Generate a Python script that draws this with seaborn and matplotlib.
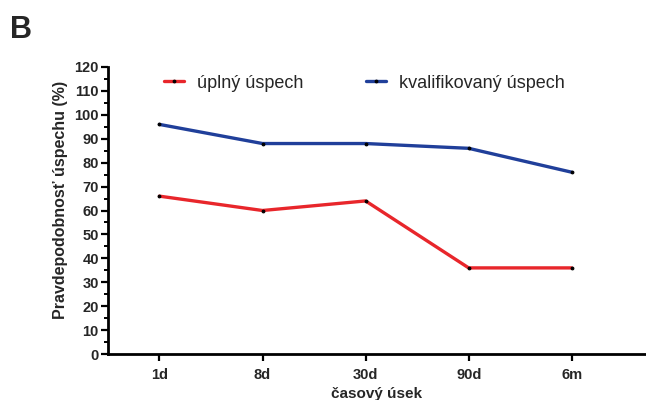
import pandas as pd
import matplotlib.pyplot as plt
from matplotlib.ticker import MultipleLocator
import seaborn as sns

# data
periods = ['1d', '8d', '30d', '90d', '6m']
full_success = [66, 60, 64, 36, 36]
qualified_success = [96, 88, 88, 86, 76]
series_names = ['úplný úspech', 'kvalifikovaný úspech']
series_colors = ['#e8262b', '#203f9a']

df = pd.DataFrame({
    'period': periods * 2,
    'value': full_success + qualified_success,
    'series': [series_names[0]] * len(periods) + [series_names[1]] * len(periods),
})
df['pos'] = list(range(len(periods))) * 2

sns.set_style('ticks')
plt.rcParams['font.family'] = ['Liberation Sans', 'DejaVu Sans']

fig = plt.figure(figsize=(6.46, 4.0), dpi=100)
ax = fig.add_axes([0.167, 0.115, 0.833, 0.7175])

sns.lineplot(data=df, x='pos', y='value', hue='series', palette=series_colors,
             linewidth=2.4, marker='o', markersize=2.0, markerfacecolor='black',
             markeredgecolor='black', ax=ax)

ax.set_xlim(-0.5, 4.72)
ax.set_ylim(0, 120)
ax.set_xticks(range(len(periods)))
ax.set_xticklabels(periods)
ax.yaxis.set_major_locator(MultipleLocator(10))
ax.yaxis.set_minor_locator(MultipleLocator(5))

for lab in ax.get_xticklabels() + ax.get_yticklabels():
    lab.set_fontweight('bold')
    lab.set_fontsize(10.5)

ax.tick_params(axis='both', which='major', length=5, width=1.6, color='black')
ax.tick_params(axis='y', which='major', pad=1.5)
ax.tick_params(axis='y', which='minor', length=3, width=1.4, color='black')
ax.tick_params(axis='x', which='major', pad=5)

sns.despine(ax=ax)
for side in ['left', 'bottom']:
    ax.spines[side].set_linewidth(2)
    ax.spines[side].set_color('black')

ax.set_xlabel('časový úsek', fontsize=11, fontweight='bold', labelpad=4)
ax.set_ylabel('Pravdepodobnosť úspechu (%)', fontsize=11.5, fontweight='bold')
ax.yaxis.set_label_coords(-0.075, 0.537)

ax.legend(loc='upper left', bbox_to_anchor=(0.074, 1.03), ncol=2, frameon=False,
          fontsize=13, handlelength=1.1, columnspacing=3.5, handletextpad=0.72,
          title=None)

fig.text(0.015, 0.905, 'B', fontsize=22, fontweight='bold')

fig.savefig('out.png', dpi=100)
